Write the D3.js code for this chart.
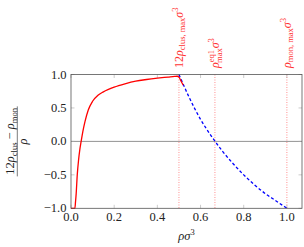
<!DOCTYPE html>
<html>
<head>
<meta charset="utf-8">
<script src="https://cdn.jsdelivr.net/npm/d3@7"></script>
<style>
  body { margin: 0; background: #fff; }
  svg { display: block; }
  text { font-family: "Liberation Serif", "DejaVu Serif", serif; }
</style>
</head>
<body>
<div id="chart"></div>
<script>
// red curve: (12 rho_clus - rho_mon) / rho
var clusRho = [0, 0.018, 0.021, 0.024, 0.029, 0.035, 0.041, 0.047, 0.055, 0.065, 0.08, 0.1, 0.125, 0.15, 0.2, 0.25, 0.3, 0.35, 0.4, 0.45, 0.48, 0.492, 0.5, 0.51, 0.52];
var clusVal = [-1, -1, -0.9, -0.78, -0.5, -0.28, -0.12, 0, 0.15, 0.3, 0.47, 0.6, 0.69, 0.74, 0.81, 0.86, 0.9, 0.925, 0.945, 0.962, 0.972, 0.974, 0.96, 0.9, 0.84];

// blue dashed curve beyond rho_clus,max
var monRho = [0.5, 0.55, 0.6, 0.65, 0.7, 0.75, 0.8, 0.85, 0.9, 0.95, 1.0];
var monVal = [1.0, 0.64, 0.33, 0.08, -0.14, -0.33, -0.5, -0.65, -0.78, -0.89, -1.0];

// marker lines
var markX = [0.5, 0.6667, 1.0];

var xTicks = [0, 0.2, 0.4, 0.6, 0.8, 1.0];
var yTicks = [-1, -0.5, 0, 0.5, 1];

var width = 304, height = 247;
var margin = { top: 74.5, right: 2, bottom: 38.7, left: 71 };

var svg = d3.select("#chart").append("svg")
    .attr("width", width)
    .attr("height", height);

var x = d3.scaleLinear().domain([0, 1.07]).range([margin.left, width - margin.right]);
var y = d3.scaleLinear().domain([-1, 1]).range([height - margin.bottom, margin.top]);

var g = svg.append("g");

// zero line
g.append("line")
    .attr("x1", x(0)).attr("x2", x(1.07))
    .attr("y1", y(0)).attr("y2", y(0))
    .attr("stroke", "#777").attr("stroke-width", 0.8);

// dotted marker lines
g.selectAll(".mark").data(markX).enter().append("line")
    .attr("class", "mark")
    .attr("x1", function(d) { return x(d); })
    .attr("x2", function(d) { return x(d); })
    .attr("y1", y(1)).attr("y2", y(-1))
    .attr("stroke", "#f44")
    .attr("stroke-width", 0.6)
    .attr("stroke-dasharray", "1,1.5");

// ticks, pointing inward on all four sides
var tl = 3.5;
var tickG = g.append("g").attr("stroke", "#aaa").attr("stroke-width", 0.6);
xTicks.forEach(function(t) {
    tickG.append("line").attr("x1", x(t)).attr("x2", x(t)).attr("y1", y(-1)).attr("y2", y(-1) - tl);
    tickG.append("line").attr("x1", x(t)).attr("x2", x(t)).attr("y1", y(1)).attr("y2", y(1) + tl);
});
yTicks.forEach(function(t) {
    tickG.append("line").attr("x1", x(0)).attr("x2", x(0) + tl).attr("y1", y(t)).attr("y2", y(t));
    tickG.append("line").attr("x1", x(1.07)).attr("x2", x(1.07) - tl).attr("y1", y(t)).attr("y2", y(t));
});

// curves
var line = d3.line()
    .x(function(d) { return x(d[0]); })
    .y(function(d) { return y(d[1]); })
    .curve(d3.curveMonotoneX);

g.append("path")
    .datum(d3.zip(monRho, monVal))
    .attr("d", line)
    .attr("fill", "none")
    .attr("stroke", "#0000ff")
    .attr("stroke-width", 1.3)
    .attr("stroke-dasharray", "3,2.2");

g.append("path")
    .datum(d3.zip(clusRho, clusVal))
    .attr("d", line)
    .attr("fill", "none")
    .attr("stroke", "#ff0000")
    .attr("stroke-width", 1.3);

// frame
g.append("rect")
    .attr("x", x(0)).attr("y", y(1))
    .attr("width", x(1.07) - x(0)).attr("height", y(-1) - y(1))
    .attr("fill", "none")
    .attr("stroke", "#555")
    .attr("stroke-width", 0.8);

// tick labels
var fmt = d3.format(".1f");
function minus(s) { return s.replace("-", "\u2212"); }

g.selectAll(".xl").data(xTicks).enter().append("text")
    .attr("class", "xl")
    .attr("x", function(d) { return x(d); })
    .attr("y", y(-1) + 13)
    .attr("text-anchor", "middle")
    .attr("font-size", 12.5)
    .attr("fill", "#222")
    .text(function(d) { return fmt(d); });

g.selectAll(".yl").data(yTicks).enter().append("text")
    .attr("class", "yl")
    .attr("x", x(0) - 4.5)
    .attr("y", function(d) { return y(d) + 4; })
    .attr("text-anchor", "end")
    .attr("font-size", 12.5)
    .attr("fill", "#222")
    .text(function(d) { return minus(fmt(d)); });

// x axis label
var xl = svg.append("text")
    .attr("x", (x(0) + x(1.07)) / 2)
    .attr("y", 240)
    .attr("text-anchor", "middle")
    .attr("font-size", 12.5)
    .attr("fill", "#222");
xl.append("tspan").attr("font-style", "italic").text("ρσ");
xl.append("tspan").attr("font-size", 8.5).attr("dy", -5).text("3");

// y axis label (fraction)
var yl = svg.append("g")
    .attr("transform", "translate(17.3," + ((y(1) + y(-1)) / 2) + ") rotate(-90)");
var num = yl.append("text")
    .attr("x", 0).attr("y", -3)
    .attr("text-anchor", "middle")
    .attr("font-size", 12.5)
    .attr("fill", "#222");
num.append("tspan").text("12");
num.append("tspan").attr("font-style", "italic").text("ρ");
num.append("tspan").attr("font-size", 8.5).attr("dy", 2.5).text("clus");
num.append("tspan").attr("dy", -2.5).text(" \u2212 ");
num.append("tspan").attr("font-style", "italic").text("ρ");
num.append("tspan").attr("font-size", 8.5).attr("dy", 2.5).text("mon");
yl.append("line")
    .attr("x1", -35).attr("x2", 35).attr("y1", 0).attr("y2", 0)
    .attr("stroke", "#222").attr("stroke-width", 0.6);
yl.append("text")
    .attr("x", 0).attr("y", 9.5)
    .attr("text-anchor", "middle")
    .attr("font-size", 12.5)
    .attr("font-style", "italic")
    .attr("fill", "#222")
    .text("ρ");

// marker labels, rotated above the plot
var red = "#f33";
function markLabel(xv, build) {
    var t = svg.append("text")
        .attr("transform", "translate(" + (x(xv) + 4) + ",68) rotate(-90)")
        .attr("font-size", 12)
        .attr("fill", red);
    build(t);
}
markLabel(markX[0], function(t) {
    t.append("tspan").text("12");
    t.append("tspan").attr("font-style", "italic").text("ρ");
    t.append("tspan").attr("font-size", 8.5).attr("dy", 2.5).text("clus, max");
    t.append("tspan").attr("font-style", "italic").attr("dy", -2.5).text("σ");
    t.append("tspan").attr("font-size", 8.5).attr("dy", -5).text("3");
});
markLabel(markX[1], function(t) {
    t.append("tspan").attr("font-style", "italic").text("ρ");
    t.append("tspan").attr("font-size", 8.5).attr("dy", -5).text("eq1");
    t.append("tspan").attr("font-size", 8.5).attr("dx", -13).attr("dy", 8).text("max");
    t.append("tspan").attr("font-style", "italic").attr("dy", -3).text("σ");
    t.append("tspan").attr("font-size", 8.5).attr("dy", -5).text("3");
});
markLabel(markX[2], function(t) {
    t.append("tspan").attr("font-style", "italic").text("ρ");
    t.append("tspan").attr("font-size", 8.5).attr("dy", 2.5).text("mon, max");
    t.append("tspan").attr("font-style", "italic").attr("dy", -2.5).text("σ");
    t.append("tspan").attr("font-size", 8.5).attr("dy", -5).text("3");
});
</script>
</body>
</html>
